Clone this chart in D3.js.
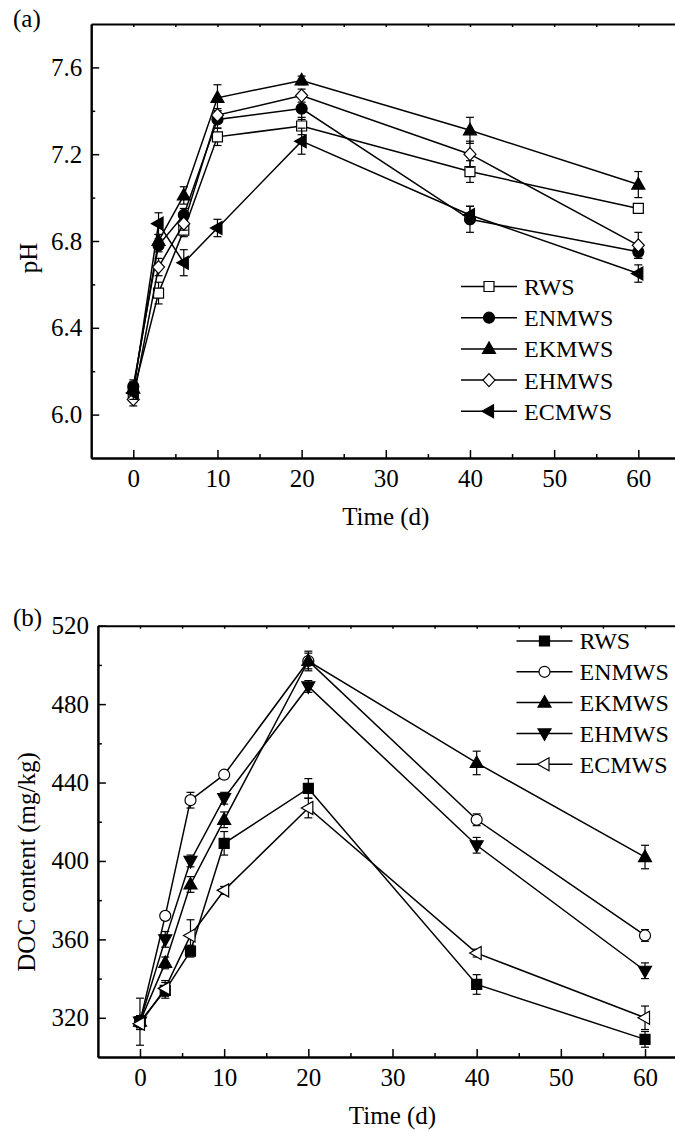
<!DOCTYPE html>
<html>
<head>
<meta charset="utf-8">
<script src="https://cdn.jsdelivr.net/npm/d3@7"></script>
<style>
  body { margin: 0; background: #fff; }
  svg text { font-family: "Liberation Serif", "Times New Roman", serif; fill: #000; }
</style>
</head>
<body>
<div id="plot"></div>
<script>
// sampling days
const times = [0, 3, 6, 10, 20, 40, 60];
const names = ["RWS", "ENMWS", "EKMWS", "EHMWS", "ECMWS"];

// (a) pH
const phRWS   = [6.10, 6.56, 6.85, 7.28, 7.33, 7.12, 6.95];
const phENMWS = [6.13, 6.78, 6.92, 7.36, 7.41, 6.90, 6.75];
const phEKMWS = [6.12, 6.80, 7.01, 7.46, 7.54, 7.31, 7.06];
const phEHMWS = [6.07, 6.68, 6.88, 7.38, 7.47, 7.20, 6.78];
const phECMWS = [6.10, 6.88, 6.70, 6.86, 7.26, 6.92, 6.65];
const phErrRWS   = [0.03, 0.05, 0.03, 0.04, 0.04, 0.05, 0.02];
const phErrENMWS = [0.03, 0.03, 0.03, 0.04, 0.05, 0.06, 0.03];
const phErrEKMWS = [0.03, 0.03, 0.04, 0.06, 0.02, 0.06, 0.06];
const phErrEHMWS = [0.03, 0.04, 0.03, 0.03, 0.03, 0.06, 0.06];
const phErrECMWS = [0.03, 0.05, 0.06, 0.04, 0.06, 0.04, 0.04];

// (b) DOC content
const docRWS   = [318, 334, 354, 409, 437, 337, 309];
const docENMWS = [318, 372, 431, 444, 502, 421, 362];
const docEKMWS = [318, 348, 388, 421, 502, 450, 402];
const docEHMWS = [318, 360, 400, 432, 489, 408, 344];
const docECMWS = [317, 335, 362, 385, 427, 353, 320];
const docErrRWS   = [12, 4, 3, 6, 5, 5, 4];
const docErrENMWS = [3, 2, 4, 2, 5, 3, 3];
const docErrEKMWS = [3, 3, 4, 4, 4, 6, 6];
const docErrEHMWS = [3, 4, 3, 3, 3, 4, 4];
const docErrECMWS = [3, 4, 8, 2, 5, 2, 6];

const xMajor = [0, 10, 20, 30, 40, 50, 60];
const xMinor = [5, 15, 25, 35, 45, 55];
const phMajor = [6.0, 6.4, 6.8, 7.2, 7.6];
const phMinor = [6.2, 6.6, 7.0, 7.4];
const docMajor = [320, 360, 400, 440, 480, 520];
const docMinor = [340, 380, 420, 460, 500];

const width = 675, height = 1132;

const svg = d3.select("#plot").append("svg")
  .attr("width", width)
  .attr("height", height);

// marker shapes
const shapes = {
  square: "M-5,-5h10v10h-10z",
  circle: "M5.5,0A5.5,5.5 0 1,1 -5.5,0A5.5,5.5 0 1,1 5.5,0z",
  up: "M0,-7L6.5,4.5L-6.5,4.5z",
  down: "M0,7L6.5,-4.5L-6.5,-4.5z",
  left: "M-7,0L4.5,-6.5L4.5,6.5z",
  diamond: "M0,-6.5L6,0L0,6.5L-6,0z"
};

function drawPanel(p) {
  const x = d3.scaleLinear().domain([-5, 65]).range([p.left, p.right]);
  const y = d3.scaleLinear().domain(p.yDomain).range([p.bottom, p.top]);
  const g = svg.append("g");

  // axes
  g.append("g").attr("transform", `translate(0,${p.bottom})`)
    .call(d3.axisBottom(x).tickValues(xMajor).tickSizeInner(-8).tickSizeOuter(0).tickPadding(11).tickFormat(d3.format("d")));
  g.append("g").attr("transform", `translate(0,${p.bottom})`)
    .call(d3.axisBottom(x).tickValues(xMinor).tickSizeInner(-4).tickSizeOuter(0).tickFormat(""));
  g.append("g").attr("transform", `translate(0,${p.top})`)
    .call(d3.axisTop(x).tickValues(xMajor.concat(xMinor)).tickSizeInner(-3).tickSizeOuter(0).tickFormat(""));
  g.append("g").attr("transform", `translate(${p.left},0)`)
    .call(d3.axisLeft(y).tickValues(p.major).tickSizeInner(-8).tickSizeOuter(0).tickPadding(9).tickFormat(p.fmt));
  g.append("g").attr("transform", `translate(${p.left},0)`)
    .call(d3.axisLeft(y).tickValues(p.minor).tickSizeInner(-4).tickSizeOuter(0).tickFormat(""));
  g.append("line").attr("x1", p.right).attr("x2", p.right).attr("y1", p.top).attr("y2", p.bottom)
    .attr("stroke", "#000").attr("stroke-width", 2);

  g.selectAll(".domain").attr("stroke", "#000").attr("stroke-width", 2);
  g.selectAll(".tick line").attr("stroke", "#000").attr("stroke-width", 1.5);
  g.selectAll(".tick text").style("font-size", "25px");

  // axis titles
  g.append("text")
    .attr("x", (p.left + p.right) / 2)
    .attr("y", p.bottom + 67)
    .attr("text-anchor", "middle")
    .style("font-size", "25px")
    .text("Time (d)");
  g.append("text")
    .attr("transform", `translate(${p.titleX},${p.titleY}) rotate(-90)`)
    .attr("text-anchor", "middle")
    .style("font-size", "25px")
    .text(p.yTitle);
  g.append("text")
    .attr("x", 13)
    .attr("y", p.tagY)
    .style("font-size", "25px")
    .text(p.tag);

  const line = d3.line().x(d => x(d.t)).y(d => y(d.v));

  p.series.forEach(s => {
    const pts = times.map((t, i) => ({ t: t, v: s.values[i], e: s.err[i] }));
    const sg = g.append("g");
    sg.append("path").datum(pts)
      .attr("d", line)
      .attr("fill", "none")
      .attr("stroke", "#000")
      .attr("stroke-width", 1.5);
    const eb = sg.selectAll(".err").data(pts).enter().append("g");
    eb.append("line")
      .attr("x1", d => x(d.t)).attr("x2", d => x(d.t))
      .attr("y1", d => y(d.v - d.e)).attr("y2", d => y(d.v + d.e))
      .attr("stroke", "#000").attr("stroke-width", 1.2);
    [-1, 1].forEach(sign => {
      eb.append("line")
        .attr("x1", d => x(d.t) - 4).attr("x2", d => x(d.t) + 4)
        .attr("y1", d => y(d.v + sign * d.e)).attr("y2", d => y(d.v + sign * d.e))
        .attr("stroke", "#000").attr("stroke-width", 1.2);
    });
    sg.selectAll(".mk").data(pts).enter().append("path")
      .attr("d", shapes[s.shape])
      .attr("transform", d => `translate(${x(d.t)},${y(d.v)})`)
      .attr("fill", s.open ? "#fff" : "#000")
      .attr("stroke", "#000")
      .attr("stroke-width", 1.2);
  });

  // legend
  p.series.forEach((s, i) => {
    const ly = p.legY + i * p.legStep;
    g.append("line")
      .attr("x1", p.legX).attr("x2", p.legX + 56)
      .attr("y1", ly).attr("y2", ly)
      .attr("stroke", "#000").attr("stroke-width", 1.5);
    g.append("path")
      .attr("d", shapes[s.shape])
      .attr("transform", `translate(${p.legX + 28},${ly})`)
      .attr("fill", s.open ? "#fff" : "#000")
      .attr("stroke", "#000").attr("stroke-width", 1.2);
    g.append("text")
      .attr("x", p.legX + 63)
      .attr("y", ly)
      .attr("dy", "0.35em")
      .style("font-size", "24px")
      .text(s.name);
  });
}

drawPanel({
  left: 91.2, right: 680.4, top: 24, bottom: 458,
  yDomain: [5.8, 7.8], major: phMajor, minor: phMinor, fmt: d3.format(".1f"),
  yTitle: "pH", titleX: 37, titleY: 258, tag: "(a)", tagY: 27,
  legX: 461, legY: 286.5, legStep: 31.2,
  series: [
    { name: names[0], values: phRWS, err: phErrRWS, shape: "square", open: true },
    { name: names[1], values: phENMWS, err: phErrENMWS, shape: "circle", open: false },
    { name: names[2], values: phEKMWS, err: phErrEKMWS, shape: "up", open: false },
    { name: names[3], values: phEHMWS, err: phErrEHMWS, shape: "diamond", open: true },
    { name: names[4], values: phECMWS, err: phErrECMWS, shape: "left", open: false }
  ]
});

drawPanel({
  left: 97.9, right: 687.1, top: 625.7, bottom: 1057,
  yDomain: [300, 520], major: docMajor, minor: docMinor, fmt: d3.format("d"),
  yTitle: "DOC content (mg/kg)", titleX: 35, titleY: 862, tag: "(b)", tagY: 626,
  legX: 516.5, legY: 641, legStep: 30.8,
  series: [
    { name: names[0], values: docRWS, err: docErrRWS, shape: "square", open: false },
    { name: names[1], values: docENMWS, err: docErrENMWS, shape: "circle", open: true },
    { name: names[2], values: docEKMWS, err: docErrEKMWS, shape: "up", open: false },
    { name: names[3], values: docEHMWS, err: docErrEHMWS, shape: "down", open: false },
    { name: names[4], values: docECMWS, err: docErrECMWS, shape: "left", open: true }
  ]
});
</script>
</body>
</html>
